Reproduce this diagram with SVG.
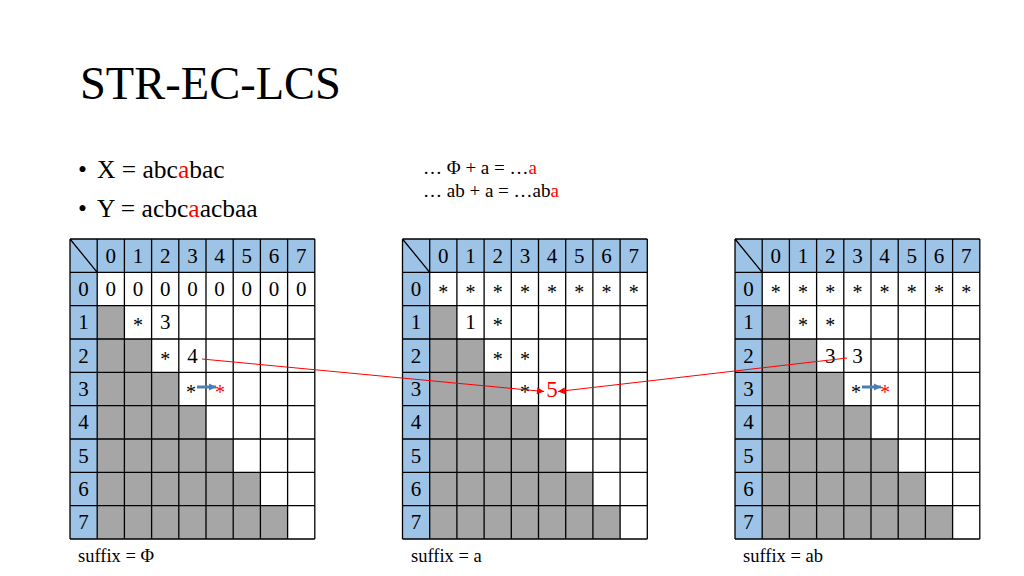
<svg xmlns="http://www.w3.org/2000/svg" xmlns:xlink="http://www.w3.org/1999/xlink" width="1024" height="576" viewBox="0 0 1024 576">
<style>
text{font-family:"Liberation Serif","Times New Roman",serif;fill:#000}
.t{font-size:46.5px}
.b{font-size:25.5px}
.n{font-size:19px}
.d{font-size:21px;text-anchor:middle}
.s{font-size:20px;text-anchor:middle}
.r{fill:#FF0000}
.lab{font-size:18.5px}
.grid{fill:none;stroke:#000;stroke-width:1.3}
.red{fill:none;stroke:#FF0000;stroke-width:1}
.blue{fill:none;stroke:#4A7EBB;stroke-width:3}
</style>
<defs>
<marker id="ra" viewBox="0 0 10 10" refX="10" refY="5" markerUnits="userSpaceOnUse" markerWidth="8" markerHeight="7" orient="auto">
<path d="M0,0 L10,5 L0,10 z" fill="#FF0000"/>
</marker>
<marker id="ba" viewBox="0 0 10 10" refX="10" refY="5" markerUnits="userSpaceOnUse" markerWidth="7" markerHeight="8" orient="auto">
<path d="M0,0 L10,5 L0,10 z" fill="#4A7EBB"/>
</marker>
<g id="tbl">
<rect x="0" y="0" width="244.8" height="300" fill="#FFFFFF"/>
<rect x="0" y="0" width="244.8" height="33.333" fill="#9DC3E6"/>
<rect x="0" y="0" width="27.2" height="300" fill="#9DC3E6"/>
<path d="M27.2,66.667 L54.4,66.667 L54.4,100 L81.6,100 L81.6,133.333 L108.8,133.333 L108.8,166.667 L136,166.667 L136,200 L163.2,200 L163.2,233.333 L190.4,233.333 L190.4,266.667 L217.6,266.667 L217.6,300 L27.2,300 z" fill="#A6A6A6"/>
<path class="grid" d="M0,0 V300 M27.2,0 V300 M54.4,0 V300 M81.6,0 V300 M108.8,0 V300 M136,0 V300 M163.2,0 V300 M190.4,0 V300 M217.6,0 V300 M244.8,0 V300 M0,0 H244.8 M0,33.333 H244.8 M0,66.667 H244.8 M0,100 H244.8 M0,133.333 H244.8 M0,166.667 H244.8 M0,200 H244.8 M0,233.333 H244.8 M0,266.667 H244.8 M0,300 H244.8 M0,0 L27.2,33.333"/>
</g>
</defs>
<rect width="1024" height="576" fill="#FFFFFF"/>

<g id="title"><text class="t" x="80" y="99">STR-EC-LCS</text></g>

<g id="bullets">
<text class="b" x="78" y="178">•</text>
<text class="b" x="97" y="178">X = abc<tspan class="r">a</tspan>bac</text>
<text class="b" x="78" y="217">•</text>
<text class="b" x="97" y="217">Y = acbc<tspan class="r">a</tspan>acbaa</text>
</g>

<g id="notes">
<text class="n" x="423" y="174">… Φ + a = …<tspan class="r">a</tspan></text>
<text class="n" x="423" y="197">… ab + a = …ab<tspan class="r">a</tspan></text>
</g>

<g id="table1" transform="translate(70,239)">
<use xlink:href="#tbl" href="#tbl"/>
<text class="d" x="40.8" y="23.7">0</text><text class="d" x="68" y="23.7">1</text><text class="d" x="95.2" y="23.7">2</text><text class="d" x="122.4" y="23.7">3</text><text class="d" x="149.6" y="23.7">4</text><text class="d" x="176.8" y="23.7">5</text><text class="d" x="204" y="23.7">6</text><text class="d" x="231.2" y="23.7">7</text>
<text class="d" x="13.6" y="57">0</text><text class="d" x="13.6" y="90.3">1</text><text class="d" x="13.6" y="123.7">2</text><text class="d" x="13.6" y="157">3</text><text class="d" x="13.6" y="190.3">4</text><text class="d" x="13.6" y="223.7">5</text><text class="d" x="13.6" y="257">6</text><text class="d" x="13.6" y="290.3">7</text>
<text class="d" x="40.8" y="57">0</text><text class="d" x="68" y="57">0</text><text class="d" x="95.2" y="57">0</text><text class="d" x="122.4" y="57">0</text><text class="d" x="149.6" y="57">0</text><text class="d" x="176.8" y="57">0</text><text class="d" x="204" y="57">0</text><text class="d" x="231.2" y="57">0</text>
<text class="s" x="68" y="93.3">*</text><text class="d" x="95.2" y="90.3">3</text>
<text class="s" x="95.2" y="126.7">*</text><text class="d" x="122.4" y="123.7">4</text>
<text class="s" x="121" y="160">*</text><text class="s r" x="150" y="160">*</text>
<path class="blue" d="M127,148 H146" marker-end="url(#ba)"/>
</g>
<text class="lab" x="78" y="562">suffix = Φ</text>

<g id="table2" transform="translate(402.5,239)">
<use xlink:href="#tbl" href="#tbl"/>
<text class="d" x="40.8" y="23.7">0</text><text class="d" x="68" y="23.7">1</text><text class="d" x="95.2" y="23.7">2</text><text class="d" x="122.4" y="23.7">3</text><text class="d" x="149.6" y="23.7">4</text><text class="d" x="176.8" y="23.7">5</text><text class="d" x="204" y="23.7">6</text><text class="d" x="231.2" y="23.7">7</text>
<text class="d" x="13.6" y="57">0</text><text class="d" x="13.6" y="90.3">1</text><text class="d" x="13.6" y="123.7">2</text><text class="d" x="13.6" y="157">3</text><text class="d" x="13.6" y="190.3">4</text><text class="d" x="13.6" y="223.7">5</text><text class="d" x="13.6" y="257">6</text><text class="d" x="13.6" y="290.3">7</text>
<text class="s" x="40.8" y="60">*</text><text class="s" x="68" y="60">*</text><text class="s" x="95.2" y="60">*</text><text class="s" x="122.4" y="60">*</text><text class="s" x="149.6" y="60">*</text><text class="s" x="176.8" y="60">*</text><text class="s" x="204" y="60">*</text><text class="s" x="231.2" y="60">*</text>
<text class="d" x="68" y="90.3">1</text><text class="s" x="95.2" y="93.3">*</text>
<text class="s" x="95.2" y="126.7">*</text><text class="s" x="122.4" y="126.7">*</text>
<text class="s" x="122.4" y="160">*</text><text class="d r" x="149.6" y="158" style="font-size:23px">5</text>
</g>
<text class="lab" x="411" y="562">suffix = a</text>

<g id="table3" transform="translate(735,239)">
<use xlink:href="#tbl" href="#tbl"/>
<text class="d" x="40.8" y="23.7">0</text><text class="d" x="68" y="23.7">1</text><text class="d" x="95.2" y="23.7">2</text><text class="d" x="122.4" y="23.7">3</text><text class="d" x="149.6" y="23.7">4</text><text class="d" x="176.8" y="23.7">5</text><text class="d" x="204" y="23.7">6</text><text class="d" x="231.2" y="23.7">7</text>
<text class="d" x="13.6" y="57">0</text><text class="d" x="13.6" y="90.3">1</text><text class="d" x="13.6" y="123.7">2</text><text class="d" x="13.6" y="157">3</text><text class="d" x="13.6" y="190.3">4</text><text class="d" x="13.6" y="223.7">5</text><text class="d" x="13.6" y="257">6</text><text class="d" x="13.6" y="290.3">7</text>
<text class="s" x="40.8" y="60">*</text><text class="s" x="68" y="60">*</text><text class="s" x="95.2" y="60">*</text><text class="s" x="122.4" y="60">*</text><text class="s" x="149.6" y="60">*</text><text class="s" x="176.8" y="60">*</text><text class="s" x="204" y="60">*</text><text class="s" x="231.2" y="60">*</text>
<text class="s" x="68" y="93.3">*</text><text class="s" x="95.2" y="93.3">*</text>
<text class="d" x="95.2" y="123.7">3</text><text class="d" x="122.4" y="123.7">3</text>
<text class="s" x="121" y="160">*</text><text class="s r" x="150" y="160">*</text>
<path class="blue" d="M127,148 H146" marker-end="url(#ba)"/>
</g>
<text class="lab" x="743" y="562">suffix = ab</text>

<g id="connectors">
<path class="red" d="M202,359 L544,391.5" marker-end="url(#ra)"/>
<path class="red" d="M847,358 L558,391.5" marker-end="url(#ra)"/>
</g>
</svg>
